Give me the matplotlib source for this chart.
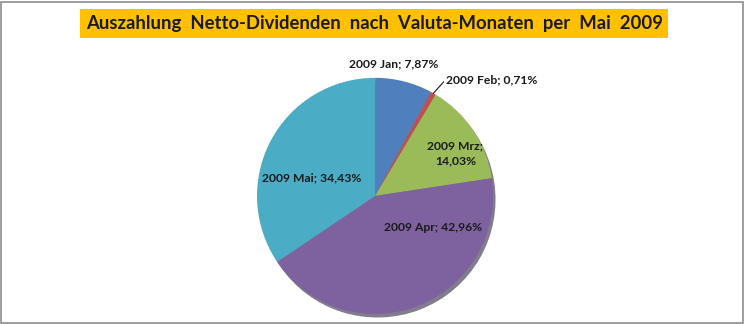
import matplotlib
matplotlib.use('Agg')
import matplotlib.pyplot as plt
from matplotlib.patches import Rectangle
import numpy as np

# Daten aus dem Diagramm
months = ['2009 Jan', '2009 Feb', '2009 Mrz', '2009 Apr', '2009 Mai']
shares = [7.87, 0.71, 14.03, 42.96, 34.43]
colors = ['#4F7FBC', '#C0504D', '#9BBB59', '#7E62A0', '#4BACC6']

plt.rcParams['font.family'] = ['Lato', 'DejaVu Sans']

fig = plt.figure(figsize=(7.45, 3.24), dpi=100)
fig.patch.set_facecolor('white')

# Rahmen
fig.add_artist(Rectangle((1 / 745, 1 / 324), 742 / 745, 321 / 324, transform=fig.transFigure,
                         fill=False, edgecolor='#8C8C8C', lw=1.2))

# Titel mit gelbem Kasten
fig.add_artist(Rectangle((80 / 745, (324 - 38) / 324), 588 / 745, 29 / 324,
                         transform=fig.transFigure, facecolor='#FFC000', edgecolor='none'))
fig.text(375 / 745, (324 - 23.5) / 324, 'Auszahlung  Netto-Dividenden  nach  Valuta-Monaten  per  Mai  2009',
         ha='center', va='center', fontsize=13.3, fontweight='bold', color='#1a1a1a')

ax = fig.add_axes([221.6 / 745, -25.4 / 324, 307 / 745, 307 / 324])
ax.axis('off')

# Schatten
ax.pie(shares, startangle=90, counterclock=False, radius=1.0, center=(0.02, -0.03),
       colors=['#2e2640'] * len(shares), wedgeprops=dict(linewidth=0, alpha=0.6))
wedges, _ = ax.pie(shares, startangle=90, counterclock=False, radius=1.0, colors=colors,
                   wedgeprops=dict(linewidth=0))
ax.set_xlim(-1.3, 1.3)
ax.set_ylim(-1.3, 1.3)
ax.set_aspect('equal')

# Beschriftungen
label_pos = [(0.16, 1.12), (0.60, 0.985), (0.68, 0.36), (0.49, -0.27), (-0.54, 0.15)]
label_text = []
for m, s in zip(months, shares):
    label_text.append('%s; %s%%' % (m, ('%.2f' % s).replace('.', ',')))
label_text[2] = label_text[2].replace('; ', ';\n')

for i, (txt, (x, y)) in enumerate(zip(label_text, label_pos)):
    if i == 1:
        ax.text(x, y, txt, ha='left', va='center', fontsize=8.7, fontweight='bold', color='#1a1a1a')
        w = wedges[1]
        mid = np.deg2rad((w.theta1 + w.theta2) / 2)
        ax.plot([np.cos(mid), x - 0.02], [np.sin(mid), y - 0.02], color='#1a1a1a', lw=0.8)
    else:
        ax.text(x, y, txt, ha='center', va='center', fontsize=8.7, fontweight='bold',
                color='#1a1a1a', linespacing=1.4)

fig.savefig('out.png', dpi=100)
